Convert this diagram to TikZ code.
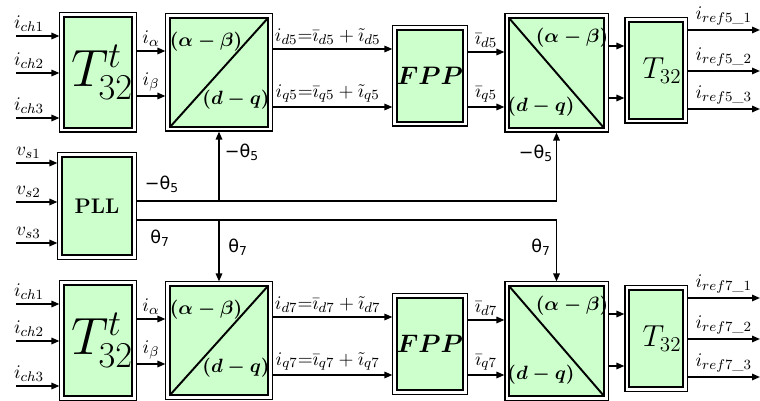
\documentclass[tikz,border=0pt]{standalone}
\usepackage{amsmath,amssymb}
\usepackage{graphicx}
\usepackage{fontspec}
\usepackage{xcolor}
\usepackage{tikz}
\usetikzlibrary{arrows.meta,calc}
\newfontfamily\thetafont{DejaVu Sans}
\definecolor{blkgreen}{RGB}{204,255,204}

\begin{document}
\begin{tikzpicture}[
  x=0.02cm, y=-0.02cm,
  blk/.style={draw, fill=blkgreen, line width=1.1pt, inner sep=0pt, outer sep=2.6pt,
              preaction={draw=black, line width=5.2pt},
              preaction={draw=white, line width=4pt}},
  arr/.style={-{Triangle[length=0.16cm,width=0.13cm]}, line width=0.9pt},
  lbl/.style={font=\fontsize{10.95}{13}\selectfont, inner sep=2pt},
  blbl/.style={font=\fontsize{10.95}{12}\selectfont, inner sep=0pt},
  thlbl/.style={font=\thetafont\fontsize{10}{12}\selectfont, inner sep=0pt},
  diagup/.style={path picture={\draw[line width=1.1pt] (path picture bounding box.south west) -- (path picture bounding box.north east);}},
  diagdown/.style={path picture={\draw[line width=1.1pt] (path picture bounding box.north west) -- (path picture bounding box.south east);}},
]
\useasboundingbox (0,0) rectangle (760,401);

% Two harmonic channels
\foreach \n/\dy in {5/0, 7/268} {
  % blocks
  \node[blk, minimum width=1.36cm, minimum height=2.22cm, text width=1.08cm, align=right,
        font=\fontsize{24.88}{25}\selectfont] (Tt\n) at (98,72.5+\dy)
        {\scalebox{1.2}{$T^{\scriptscriptstyle t}_{\mkern-1mu\scriptscriptstyle 32}$}};
  \node[blk, diagup, minimum width=1.96cm, minimum height=2.18cm] (AB\n) at (219,72.5+\dy) {};
  \node[blbl] (ABa\n) at (206,42+\dy) {$\boldsymbol{(\alpha-\beta)}$};
  \node[blbl] (ABd\n) at (236,100+\dy) {$\boldsymbol{(d-q)}$};
  \node[blk, minimum width=1.16cm, minimum height=1.84cm,
        font=\fontsize{14.4}{16}\selectfont] (FPP\n) at (430,76+\dy) {$\boldsymbol{FPP}$};
  \node[blk, diagdown, minimum width=1.90cm, minimum height=2.20cm] (DQ\n) at (556.5,73+\dy) {};
  \node[blbl] (DQa\n) at (572,38+\dy) {$\boldsymbol{(\alpha-\beta)}$};
  \node[blbl] (DQd\n) at (541,107+\dy) {$\boldsymbol{(d-q)}$};
  \node[blk, minimum width=1.08cm, minimum height=1.94cm, text width=1.02cm, align=right,
        font=\fontsize{17.28}{18}\selectfont] (T\n) at (656,70.5+\dy) {$T_{32}$};
  % signals
  \foreach \k/\y in {1/36, 2/73, 3/118} {
    \coordinate (ch\n\k) at (16,\y+\dy);
    \draw[arr] (ch\n\k) -- node[lbl, above, pos=0.3] (lch\n\k) {$i_{ch\k}$} (ch\n\k -| Tt\n.west);
  }
  \draw[arr] (Tt\n.east |- 0,51+\dy) -- node[lbl, above] (lal\n) {$i_\alpha$} (AB\n.west |- 0,51+\dy);
  \draw[arr] (Tt\n.east |- 0,96+\dy) -- node[lbl, above] (lbe\n) {$i_\beta$} (AB\n.west |- 0,96+\dy);
  \draw[arr] (AB\n.east |- 0,49+\dy) -- node[lbl, above, pos=0.46] (lid\n) {$i_{d\n}{=}\bar{\imath}_{d\n}+\tilde{\imath}_{d\n}$} (FPP\n.west |- 0,49+\dy);
  \draw[arr] (AB\n.east |- 0,107+\dy) -- node[lbl, above, pos=0.46] (liq\n) {$i_{q\n}{=}\bar{\imath}_{q\n}+\tilde{\imath}_{q\n}$} (FPP\n.west |- 0,107+\dy);
  \draw[arr] (FPP\n.east |- 0,52+\dy) -- node[lbl, above] (lfd\n) {$\bar{\imath}_{d\n}$} (DQ\n.west |- 0,52+\dy);
  \draw[arr] (FPP\n.east |- 0,107+\dy) -- node[lbl, above] (lfq\n) {$\bar{\imath}_{q\n}$} (DQ\n.west |- 0,107+\dy);
  \draw[arr] (DQ\n.east |- 0,46+\dy) -- (T\n.west |- 0,46+\dy);
  \draw[arr] (DQ\n.east |- 0,98+\dy) -- (T\n.west |- 0,98+\dy);
  \foreach \k/\y in {1/30, 2/71, 3/109} {
    \coordinate (ref\n\k) at (760,\y+\dy);
    \draw[arr] (ref\n\k -| T\n.east) -- node[lbl, above] (lref\n\k) {$i_{ref\n\_\k}$} (ref\n\k);
  }
}

% PLL
\node[blk, minimum width=1.40cm, minimum height=1.96cm,
      font=\bfseries\fontsize{12}{14}\selectfont] (PLL) at (97,206) {PLL};
\foreach \k/\y in {1/163, 2/202, 3/243} {
  \coordinate (vs\k) at (16,\y);
  \draw[arr] (vs\k) -- node[lbl, above, pos=0.3] (lvs\k) {$v_{s\k}$} (vs\k -| PLL.west);
}
\coordinate (th5) at (PLL.east |- 0,201);
\coordinate (th7) at (PLL.east |- 0,220);
\draw[arr] (th5) -| (DQ5.south);
\draw[arr] (th5 -| AB5.south) -- (AB5.south);
\draw[arr] (th7) -| (DQ7.north);
\draw[arr] (th7 -| AB7.north) -- (AB7.north);
\node[thlbl] (tha) at (162,184) {−θ\textsubscript{5}};
\node[thlbl] (thb) at (242,152) {−θ\textsubscript{5}};
\node[thlbl] (thc) at (536,153) {−θ\textsubscript{5}};
\node[thlbl] (thd) at (160,238) {θ\textsubscript{7}};
\node[thlbl] (the) at (238,247) {θ\textsubscript{7}};
\node[thlbl] (thf) at (541,247) {θ\textsubscript{7}};
\end{tikzpicture}
\end{document}
